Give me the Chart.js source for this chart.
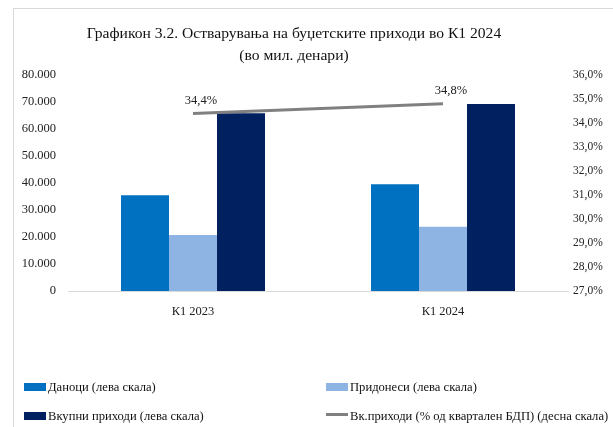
<!DOCTYPE html>
<html>
<head>
<meta charset="utf-8">
<script src="https://cdn.jsdelivr.net/npm/chart.js@4.4.1/dist/chart.umd.min.js"></script>
<style>
  html, body { margin: 0; padding: 0; background: #fff; }
  #wrap { position: relative; width: 613px; height: 427px; overflow: hidden; font-family: "Liberation Serif", serif; color: #222; }
  #frame { position: absolute; left: 13px; top: 8px; right: -2px; bottom: -2px; border-left: 1px solid #d9d9d9; border-top: 1px solid #d9d9d9; }
  #title { position: absolute; left: 44px; width: 500px; top: 22px; text-align: center; font-size: 15.6px; line-height: 22px; color: #111; }
  canvas { position: absolute; left: 0; top: 0; }
  .sw { position: absolute; width: 22px; height: 8px; }
  .ln { position: absolute; width: 22px; height: 3px; background: #808080; }
  .lt { position: absolute; font-size: 12.6px; line-height: 14px; white-space: nowrap; color: #111; }
</style>
</head>
<body>
<div id="wrap">
  <div id="frame"></div>
  <canvas id="chart" width="613" height="427"></canvas>
  <div id="title">Графикон 3.2. Остварувања на буџетските приходи во К1 2024<br>(во мил. денари)</div>
  <div id="legend"></div>
</div>
<script>
// Податоци
const categories = ['К1 2023', 'К1 2024'];
const danoci = [35500, 39500];
const pridonesi = [20700, 23800];
const vkupni = [65800, 69300];
const vkPctBdp = [34.4, 34.8];

const seriesNames = [
    'Даноци (лева скала)',
    'Придонеси (лева скала)',
    'Вкупни приходи (лева скала)',
    'Вк.приходи (% од квартален БДП) (десна скала)'
];

const colors = {
    danoci: '#0070c0',
    pridonesi: '#8eb4e3',
    vkupni: '#002060',
    line: '#808080',
    text: '#222222',
    axis: '#d9d9d9'
};

const fontFamily = '"Liberation Serif", serif';

// форматирање: 80.000 и 36,0%
const fmtThousands = v => v === 0 ? '0' : v.toLocaleString('de-DE');
const fmtPct = v => v.toFixed(1).replace('.', ',') + '%';

// етикети над линијата
const lineLabels = {
    id: 'lineLabels',
    afterDatasetsDraw(chart) {
        const meta = chart.getDatasetMeta(3);
        const ctx = chart.ctx;
        ctx.save();
        ctx.font = '12.5px ' + fontFamily;
        ctx.fillStyle = colors.text;
        ctx.textAlign = 'center';
        ctx.textBaseline = 'middle';
        meta.data.forEach((pt, i) => {
            ctx.fillText(fmtPct(vkPctBdp[i]), pt.x + 8, pt.y - 13);
        });
        ctx.restore();
    }
};

const chart = new Chart(document.getElementById('chart'), {
    type: 'bar',
    data: {
        labels: categories,
        datasets: [
            { label: seriesNames[0], data: danoci, backgroundColor: colors.danoci, yAxisID: 'y', order: 1 },
            { label: seriesNames[1], data: pridonesi, backgroundColor: colors.pridonesi, yAxisID: 'y', order: 1 },
            { label: seriesNames[2], data: vkupni, backgroundColor: colors.vkupni, yAxisID: 'y', order: 1 },
            {
                type: 'line', label: seriesNames[3], data: vkPctBdp, yAxisID: 'y1',
                borderColor: colors.line, borderWidth: 3, pointRadius: 0, order: 0
            }
        ]
    },
    options: {
        responsive: false,
        animation: false,
        layout: { padding: { left: 18, right: 5, top: 75, bottom: 96 } },
        datasets: { bar: { barPercentage: 1, categoryPercentage: 0.576 } },
        plugins: {
            legend: { display: false },
            tooltip: { enabled: false },
            title: { display: false }
        },
        scales: {
            x: {
                grid: { display: false },
                border: { display: true, color: colors.axis, width: 1 },
                ticks: { color: colors.text, font: { family: fontFamily, size: 12.5 }, padding: 5 },
                afterFit: s => { s.height = 40; }
            },
            y: {
                position: 'left',
                min: 0, max: 80000,
                grid: { display: false, drawTicks: false },
                border: { display: false },
                ticks: { stepSize: 10000, color: colors.text, font: { family: fontFamily, size: 12.5 }, padding: 12, callback: fmtThousands },
                afterFit: s => { s.width = 50; }
            },
            y1: {
                position: 'right',
                min: 27, max: 36,
                grid: { display: false, drawTicks: false },
                border: { display: false },
                ticks: { stepSize: 1, color: colors.text, font: { family: fontFamily, size: 11.5 }, padding: 5, callback: fmtPct },
                afterFit: s => { s.width = 40; }
            }
        }
    },
    plugins: [lineLabels]
});

// легенда (2 колони x 2 реда)
const legendPos = [
    { x: 24, y: 387 },
    { x: 326, y: 387 },
    { x: 24, y: 416 },
    { x: 326, y: 416 }
];
const legendEl = document.getElementById('legend');
chart.data.datasets.forEach((ds, i) => {
    const p = legendPos[i];
    const mark = document.createElement('div');
    if (ds.type === 'line') {
        mark.className = 'ln';
        mark.style.top = (p.y - 3) + 'px';
    } else {
        mark.className = 'sw';
        mark.style.top = (p.y - 4) + 'px';
        mark.style.background = ds.backgroundColor;
    }
    mark.style.left = p.x + 'px';
    legendEl.appendChild(mark);

    const t = document.createElement('div');
    t.className = 'lt';
    t.style.left = (p.x + 24) + 'px';
    t.style.top = (p.y - 7) + 'px';
    t.textContent = ds.label;
    legendEl.appendChild(t);
});
</script>
</body>
</html>
